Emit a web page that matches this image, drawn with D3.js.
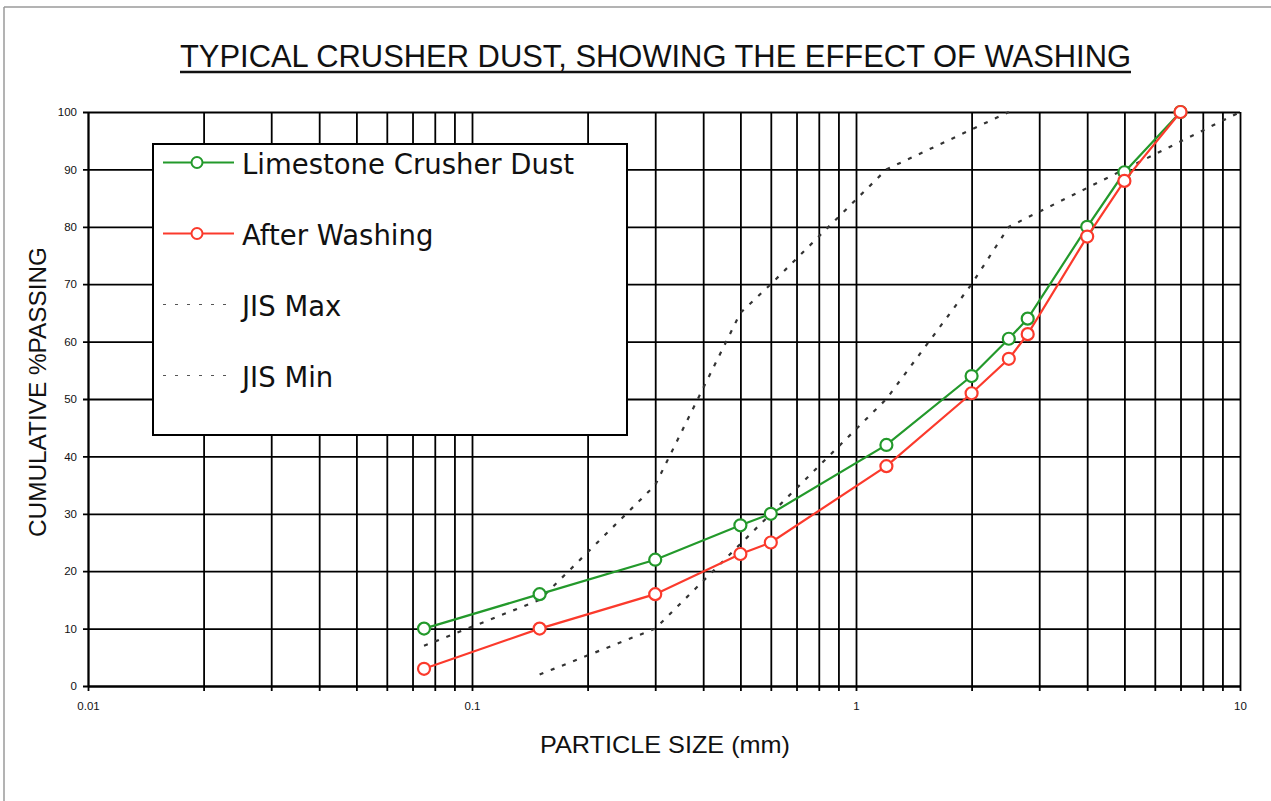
<!DOCTYPE html>
<html><head><meta charset="utf-8">
<script src="https://cdn.jsdelivr.net/npm/d3@7"></script>
<style>html,body{margin:0;padding:0;background:#fff;} svg{display:block;}</style>
</head><body>
<script>
// ---- data ----
const sizes = [0.075, 0.15, 0.3, 0.5, 0.6, 1.2, 2, 2.5, 2.8, 4, 5, 7];
const limestone = [10, 16, 22, 28, 30, 42, 54, 60.5, 64, 80, 89.5, 100];
const washed = [3, 10, 16, 23, 25, 38.3, 51, 57, 61.3, 78.3, 88, 100];
const jisMaxSizes = [0.075, 0.15, 0.3, 0.5, 0.6, 1.2, 2.5];
const jisMaxValues = [7, 15, 35, 65, 70, 90, 100];
const jisMinSizes = [0.15, 0.3, 0.6, 1.2, 2, 2.5, 5, 10];
const jisMinValues = [2, 10, 30, 50, 70, 80, 90, 100];
const yTicks = [0, 10, 20, 30, 40, 50, 60, 70, 80, 90, 100];
const xMajorTicks = [0.01, 0.1, 1, 10];
const xMajorLabels = ["0.01", "0.1", "1", "10"];
const legendLabels = ["Limestone Crusher Dust", "After Washing", "JIS Max", "JIS Min"];
const titleText = "TYPICAL CRUSHER DUST, SHOWING THE EFFECT OF WASHING";
const xTitle = "PARTICLE SIZE (mm)";
const yTitle = "CUMULATIVE %PASSING";

const W = 1271, H = 801;
const L = 88, R = 1240, T = 112, B = 686;
const GREEN = "#23992b", RED = "#fb3a2c";

const svg = d3.select("body").append("svg").attr("width", W).attr("height", H);

// image frame
svg.append("line").attr("x1", 4).attr("x2", W).attr("y1", 7).attr("y2", 7).attr("stroke", "#9a9a9a").attr("stroke-width", 1.5);
svg.append("line").attr("x1", 4).attr("x2", 4).attr("y1", 7).attr("y2", H).attr("stroke", "#9a9a9a").attr("stroke-width", 1.5);

const x = d3.scaleLog().domain([0.01, 10]).range([L, R]);
const y = d3.scaleLinear().domain([0, 100]).range([B, T]);

// all log gridline positions
const xAll = [];
for (let d = 0.01; d < 10; d *= 10) for (let k = 1; k < 10; k++) xAll.push(+(d * k).toPrecision(3));
xAll.push(10);

// x axis with gridlines
const xAxis = d3.axisBottom(x).tickValues(xAll).tickSizeInner(-(B - T)).tickSizeOuter(0).tickPadding(16)
  .tickFormat(v => { const i = xMajorTicks.findIndex(m => Math.abs(m - v) < 1e-9); return i >= 0 ? xMajorLabels[i] : ""; });
const gx = svg.append("g").attr("transform", `translate(0,${B})`).call(xAxis);
gx.selectAll(".tick line").attr("y1", 5).attr("stroke", "#000").attr("stroke-width", 1.8);
gx.select(".domain").attr("stroke", "#000").attr("stroke-width", 1.8);
gx.selectAll("text").attr("font-family", "Liberation Sans, Arial, sans-serif").attr("font-size", 11.5).attr("fill", "#111");

// y axis with gridlines
const yAxis = d3.axisLeft(y).tickValues(yTicks).tickSizeInner(-(R - L)).tickSizeOuter(0).tickPadding(11).tickFormat(d3.format("d"));
const gy = svg.append("g").attr("transform", `translate(${L},0)`).call(yAxis);
gy.selectAll(".tick line").attr("x1", -5).attr("stroke", "#000").attr("stroke-width", 1.8);
gy.select(".domain").attr("stroke", "#000").attr("stroke-width", 1.8);
gy.selectAll("text").attr("font-family", "Liberation Sans, Arial, sans-serif").attr("font-size", 11.5).attr("fill", "#111");

// JIS envelopes
const line = d3.line().x(d => x(d[0])).y(d => y(d[1]));
function dotted(xs, ys) {
  svg.append("path").datum(xs.map((v, i) => [v, ys[i]])).attr("d", line)
    .attr("fill", "none").attr("stroke", "#333").attr("stroke-width", 2.2).attr("stroke-dasharray", "4,8");
}
dotted(jisMaxSizes, jisMaxValues);
dotted(jisMinSizes, jisMinValues);

// data series
function series(vals, color) {
  const pts = sizes.map((s, i) => [s, vals[i]]);
  svg.append("path").datum(pts).attr("d", line).attr("fill", "none").attr("stroke", color).attr("stroke-width", 2.2);
  svg.append("g").selectAll("circle").data(pts).join("circle")
    .attr("cx", d => x(d[0])).attr("cy", d => y(d[1])).attr("r", 6)
    .attr("fill", "#fff").attr("stroke", color).attr("stroke-width", 2.2);
}
series(limestone, GREEN);
series(washed, RED);

// legend
const lg = svg.append("g");
lg.append("rect").attr("x", 153).attr("y", 144).attr("width", 474).attr("height", 291)
  .attr("fill", "#fff").attr("stroke", "#000").attr("stroke-width", 2);
const legendStyles = [
  { color: GREEN, marker: true }, { color: RED, marker: true },
  { color: "#555", marker: false }, { color: "#555", marker: false }
];
legendLabels.forEach((lab, i) => {
  const cy = 162.5 + i * 71;
  const st = legendStyles[i];
  if (st.marker) {
    lg.append("line").attr("x1", 163).attr("x2", 234).attr("y1", cy).attr("y2", cy).attr("stroke", st.color).attr("stroke-width", 2);
    lg.append("circle").attr("cx", 197).attr("cy", cy).attr("r", 5.5).attr("fill", "#fff").attr("stroke", st.color).attr("stroke-width", 2);
  } else {
    lg.append("line").attr("x1", 163).attr("x2", 228).attr("y1", cy).attr("y2", cy).attr("stroke", st.color).attr("stroke-width", 1).attr("stroke-dasharray", "3,9");
  }
  lg.append("text").attr("x", 242).attr("y", cy + 11).text(lab)
    .attr("font-family", "DejaVu Sans, sans-serif").attr("font-size", 27.5).attr("fill", "#111");
});

// titles
svg.append("text").attr("x", 655.5).attr("y", 67).attr("text-anchor", "middle").text(titleText)
  .attr("font-family", "Liberation Sans Narrow, Arial Narrow, Liberation Sans, sans-serif").attr("font-size", 32)
  .attr("textLength", 951).attr("lengthAdjust", "spacingAndGlyphs").attr("fill", "#111");
svg.append("line").attr("x1", 180).attr("x2", 1131).attr("y1", 72).attr("y2", 72).attr("stroke", "#111").attr("stroke-width", 2.5);

svg.append("text").attr("x", 665).attr("y", 753).attr("text-anchor", "middle").text(xTitle)
  .attr("font-family", "Liberation Sans Narrow, Arial Narrow, Liberation Sans, sans-serif").attr("font-size", 24)
  .attr("textLength", 250).attr("lengthAdjust", "spacingAndGlyphs").attr("fill", "#111");

svg.append("text").attr("transform", "translate(46,392) rotate(-90)").attr("text-anchor", "middle").text(yTitle)
  .attr("font-family", "Liberation Sans Narrow, Arial Narrow, Liberation Sans, sans-serif").attr("font-size", 24)
  .attr("textLength", 290).attr("lengthAdjust", "spacingAndGlyphs").attr("fill", "#111");
</script>
</body></html>
